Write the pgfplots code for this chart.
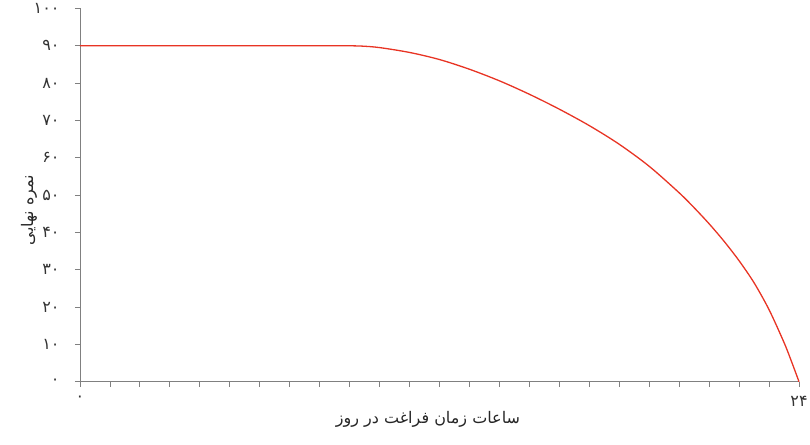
\documentclass[border=0pt]{standalone}
\usepackage{fontspec}
\usepackage{pgfplots}
\pgfplotsset{compat=1.18}
\TeXXeTstate=1
\newfontfamily\arabicfont[Script=Arabic]{DejaVu Sans}
\definecolor{axisgray}{RGB}{128,128,128}
\definecolor{curvered}{RGB}{232,52,36}
\begin{document}
\begin{tikzpicture}
\path[use as bounding box] (-80pt,-62.3pt) rectangle (730pt,381.7pt);
\begin{axis}[
  at={(0pt,0pt)}, anchor=south west,
  scale only axis,
  width=719pt, height=373.3pt,
  xmin=0, xmax=24, ymin=0, ymax=100,
  clip=false,
  axis lines*=left,
  axis line style={axisgray, line width=0.9pt},
  every tick/.style={axisgray, line width=0.9pt},
  tick align=outside,
  major tick length=5pt,
  xtick={0,1,...,24},
  xticklabels={۰,,,,,,,,,,,,,,,,,,,,,,,,۲۴},
  ytick={0,10,...,100},
  yticklabels={۰,۱۰,۲۰,۳۰,۴۰,۵۰,۶۰,۷۰,۸۰,۹۰,۱۰۰},
  ticklabel style={font=\arabicfont\fontsize{16}{18}\selectfont, text=black!80},
  xticklabel style={yshift=-6pt},
  yticklabel style={xshift=-12pt},
  xlabel={\arabicfont\beginR ساعات زمان فراغت در روز\endR},
  ylabel={\arabicfont\beginR نمره نهایی\endR},
  xlabel style={at={(axis description cs:0.484,0)}, anchor=center, yshift=-38pt, font=\fontsize{16}{18}\selectfont, text=black!85},
  ylabel style={at={(axis description cs:0,0.46)}, anchor=center, yshift=51pt, font=\fontsize{16}{18}\selectfont, text=black!85},
]
\addplot[curvered, line width=1.3pt, smooth] coordinates {
(0,90) (4,90) (8,90) (8.8,90) (9.4,89.9) (10,89.5) (11,88.2) (12,86.3) (13,83.7)
(14,80.6) (15,77.0) (16,73.0) (17,68.6) (18,63.6) (19,57.7) (20,50.6) (20.5,46.6)
(21,42.3) (21.5,37.6) (22,32.4) (22.5,26.5) (23,19.3) (23.5,10.5) (23.75,5.4) (24,0)
};
\end{axis}
\end{tikzpicture}
\end{document}
